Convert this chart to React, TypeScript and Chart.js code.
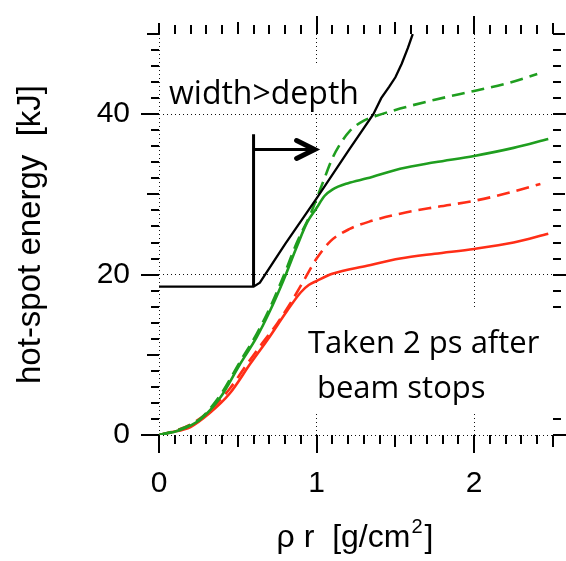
import React, { useEffect, useRef } from 'react';
import { Chart, registerables } from 'chart.js';

Chart.register(...registerables);

// ---------- data ----------
const xTickValues = [0, 1, 2];
const yTickValues = [0, 20, 40];

const blackX = [0, 0.6, 0.64, 0.8, 1.0, 1.2, 1.36, 1.41, 1.46, 1.5, 1.54, 1.58, 1.61];
const blackY = [18.5, 18.5, 19.0, 23.8, 29.5, 35.4, 40.0, 42.0, 43.4, 44.6, 46.3, 48.3, 50.0];

const greenDashX = [0, 0.13, 0.26, 0.39, 0.51, 0.62, 0.7, 0.79, 0.875, 0.96, 1.04, 1.1, 1.15, 1.21, 1.3, 1.38, 1.53, 1.75, 2.0, 2.2, 2.4];
const greenDashY = [0, 0.7, 2.0, 5.0, 9.0, 12.6, 15.7, 19.8, 24.0, 27.5, 31.5, 34.5, 36.3, 37.9, 39.2, 39.8, 40.7, 41.8, 42.9, 43.8, 45.0];

const greenSolidX = [0, 0.13, 0.26, 0.39, 0.51, 0.62, 0.7, 0.79, 0.875, 0.94, 1.0, 1.05, 1.1, 1.2, 1.32, 1.53, 1.75, 2.0, 2.25, 2.47];
const greenSolidY = [0, 0.6, 1.9, 4.7, 8.7, 12.2, 15.3, 19.3, 23.5, 26.5, 28.3, 29.8, 30.6, 31.4, 32.0, 33.2, 34.0, 34.8, 35.8, 36.9];

const redDashX = [0, 0.1, 0.2, 0.32, 0.45, 0.55, 0.65, 0.75, 0.83, 0.92, 1.0, 1.09, 1.21, 1.35, 1.53, 1.75, 2.0, 2.2, 2.42];
const redDashY = [0, 0.5, 1.3, 3.0, 5.8, 8.6, 11.3, 13.9, 16.3, 19.3, 22.0, 24.2, 25.7, 26.7, 27.6, 28.4, 29.2, 30.1, 31.3];

const redSolidX = [0, 0.07, 0.2, 0.32, 0.45, 0.58, 0.7, 0.81, 0.9, 0.95, 1.0, 1.1, 1.32, 1.53, 1.75, 2.0, 2.25, 2.47];
const redSolidY = [0, 0.3, 1.0, 2.7, 5.2, 8.9, 12.2, 15.4, 17.8, 18.7, 19.2, 20.1, 21.1, 22.0, 22.6, 23.2, 24.0, 25.1];

// annotation anchors (data coords)
const arrowStemX = 0.6;
const arrowStemY = [18.5, 37.5];
const arrowY = 35.6;
const arrowX = [0.6, 1.0];

const label1 = 'width>depth';
const label2 = ['Taken 2 ps after', 'beam stops'];
const xTitleMain = 'ρ r  [g/cm';
const xTitleSup = '2';
const yTitle = 'hot-spot energy  [kJ]';

const GREEN = '#1f9e1f';
const RED = '#ff2e17';

const pts = (xs: number[], ys: number[]) => xs.map((x, i) => ({ x, y: ys[i] }));

const AXIS_FONT = 'Liberation Sans';
const NOTE_FONT = 'Open Sans';

const decorPlugin = {
  id: 'decor',
  beforeDatasetsDraw(chart: any) {
    const { ctx, chartArea, scales } = chart;
    const xs = scales.x;
    const ys = scales.y;
    const { left, right, top, bottom } = chartArea;
    ctx.save();
    ctx.strokeStyle = '#000';
    ctx.lineWidth = 2;
    ctx.lineCap = 'butt';
    ctx.beginPath();
    for (let i = 0; i <= 25; i++) {
      const px = Math.round(xs.getPixelForValue(i / 10));
      const len = i % 10 === 0 ? 18 : i % 5 === 0 ? 12 : 9;
      ctx.moveTo(px, bottom);
      ctx.lineTo(px, bottom + len);
      const tlen = i === 0 || i === 25 ? 11 : len;
      ctx.moveTo(px, top);
      ctx.lineTo(px, top - tlen);
    }
    for (let j = 0; j <= 25; j++) {
      const v = j * 2;
      const py = Math.round(ys.getPixelForValue(v));
      const len = v % 20 === 0 ? 18 : v % 10 === 0 ? 12 : 8;
      ctx.moveTo(left, py);
      ctx.lineTo(left - len, py);
      ctx.moveTo(right, py);
      ctx.lineTo(right + len, py);
    }
    ctx.stroke();

    ctx.fillStyle = '#fff';
    ctx.fillRect(163, 66, 205, 45);
    ctx.fillRect(300, 310, 266, 103);

    ctx.fillStyle = '#000';
    ctx.textBaseline = 'alphabetic';
    ctx.textAlign = 'left';
    ctx.font = `32px "${NOTE_FONT}"`;
    ctx.fillText(label1, 169, 104);
    ctx.font = `31px "${NOTE_FONT}"`;
    ctx.fillText(label2[0], 308, 353);
    ctx.fillText(label2[1], 317, 398);

    const sx = xs.getPixelForValue(arrowStemX);
    ctx.lineWidth = 3;
    ctx.beginPath();
    ctx.moveTo(sx, ys.getPixelForValue(arrowStemY[0]));
    ctx.lineTo(sx, ys.getPixelForValue(arrowStemY[1]));
    ctx.moveTo(xs.getPixelForValue(arrowX[0]), ys.getPixelForValue(arrowY));
    ctx.lineTo(xs.getPixelForValue(arrowX[1]) - 2, ys.getPixelForValue(arrowY));
    ctx.stroke();
    const tx = xs.getPixelForValue(arrowX[1]);
    const ty = ys.getPixelForValue(arrowY);
    ctx.lineWidth = 5;
    ctx.lineCap = 'round';
    ctx.beginPath();
    ctx.moveTo(tx - 20, ty - 9);
    ctx.lineTo(tx - 2, ty);
    ctx.lineTo(tx - 20, ty + 9);
    ctx.stroke();
    ctx.restore();
  },
  afterDraw(chart: any) {
    const { ctx } = chart;
    ctx.save();
    ctx.fillStyle = '#000';
    ctx.textBaseline = 'alphabetic';
    ctx.textAlign = 'left';
    const mainFont = `32px "${AXIS_FONT}"`;
    const supFont = `20px "${AXIS_FONT}"`;
    ctx.font = mainFont;
    const w1 = ctx.measureText(xTitleMain).width;
    const w3 = ctx.measureText(']').width;
    ctx.font = supFont;
    const w2 = ctx.measureText(xTitleSup).width;
    const total = w1 + w2 + w3 + 3;
    const cx = 355;
    const x0 = cx - total / 2;
    const base = 547;
    ctx.font = mainFont;
    ctx.fillText(xTitleMain, x0, base);
    ctx.font = supFont;
    ctx.fillText(xTitleSup, x0 + w1 + 1, base - 14);
    ctx.font = mainFont;
    ctx.fillText(']', x0 + w1 + w2 + 3, base);
    ctx.restore();
  },
};

export default function App() {
  const canvasRef = useRef<HTMLCanvasElement | null>(null);

  useEffect(() => {
    document.body.style.margin = '0';
    const canvas = canvasRef.current;
    if (!canvas) return;
    const chart = new Chart(canvas, {
      type: 'line',
      data: {
        datasets: [
          { data: pts(blackX, blackY), borderColor: '#000', borderWidth: 2.3, tension: 0 },
          { data: pts(greenDashX, greenDashY), borderColor: GREEN, borderWidth: 2.6, borderDash: [13, 7], cubicInterpolationMode: 'monotone' },
          { data: pts(greenSolidX, greenSolidY), borderColor: GREEN, borderWidth: 2.6, cubicInterpolationMode: 'monotone' },
          { data: pts(redDashX, redDashY), borderColor: RED, borderWidth: 2.6, borderDash: [13, 7], cubicInterpolationMode: 'monotone' },
          { data: pts(redSolidX, redSolidY), borderColor: RED, borderWidth: 2.6, cubicInterpolationMode: 'monotone' },
        ] as any,
      },
      options: {
        animation: false,
        responsive: true,
        maintainAspectRatio: false,
        devicePixelRatio: 1,
        layout: { padding: { top: 34, right: 13, left: 0, bottom: 0 } },
        elements: { point: { radius: 0 }, line: { fill: false } },
        plugins: { legend: { display: false }, tooltip: { enabled: false } },
        scales: {
          x: {
            type: 'linear',
            min: 0,
            max: 2.5,
            afterBuildTicks: (s: any) => { s.ticks = xTickValues.map((v) => ({ value: v })); },
            afterFit: (s: any) => { s.height = 126; s.paddingLeft = 0; s.paddingRight = 0; },
            grid: { color: '#111', lineWidth: 1, drawTicks: false },
            border: { display: false, dash: [1, 3] },
            ticks: { color: '#000', font: { family: AXIS_FONT, size: 30 }, padding: 31, maxRotation: 0 },
          },
          y: {
            type: 'linear',
            min: 0,
            max: 50,
            afterBuildTicks: (s: any) => { s.ticks = yTickValues.map((v) => ({ value: v })); },
            afterFit: (s: any) => { s.width = 159; s.paddingTop = 0; s.paddingBottom = 0; },
            grid: { color: '#111', lineWidth: 1, drawTicks: false },
            border: { display: false, dash: [1, 3] },
            ticks: { color: '#000', font: { family: AXIS_FONT, size: 30 }, padding: 29 },
            title: { display: true, text: yTitle, color: '#000', font: { family: AXIS_FONT, size: 33 }, padding: { top: 11, bottom: 0 } },
          },
        },
      } as any,
      plugins: [decorPlugin],
    });
    return () => chart.destroy();
  }, []);

  return (
    <div style={{ position: 'relative', width: 566, height: 561 }}>
      <canvas ref={canvasRef} />
    </div>
  );
}
